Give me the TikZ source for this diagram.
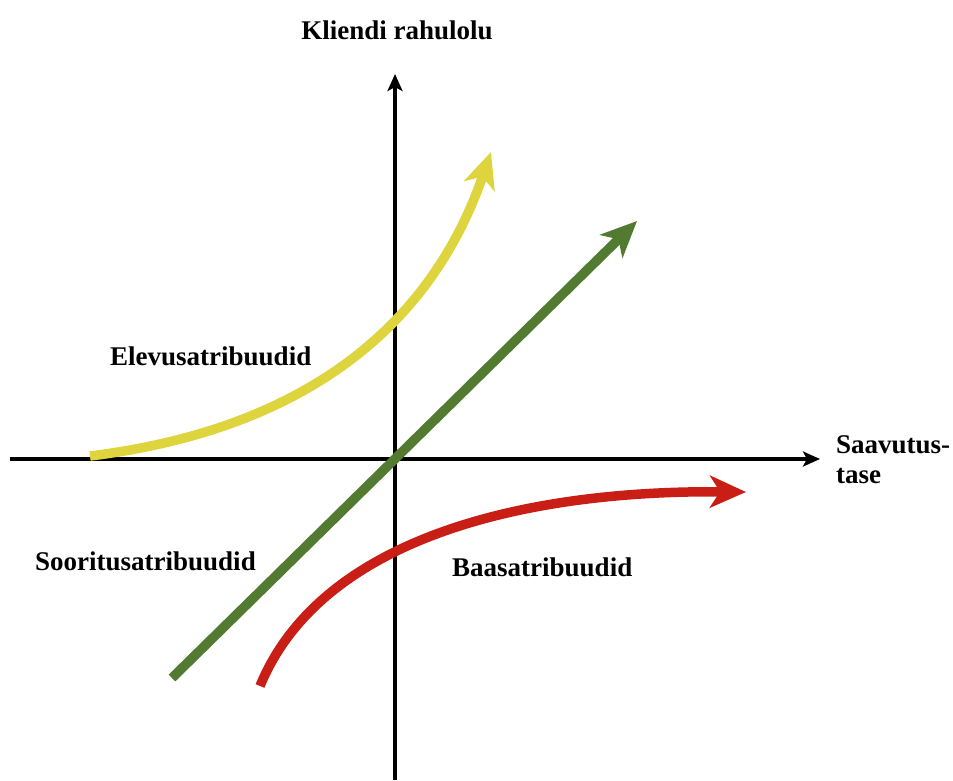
\documentclass[tikz,border=0pt]{standalone}
\usepackage{fontspec}
\setmainfont{Liberation Serif}
\usetikzlibrary{arrows.meta}
\definecolor{cyellow}{RGB}{222,212,62}
\definecolor{cgreen}{RGB}{82,122,48}
\definecolor{cred}{RGB}{200,30,22}
\tikzset{
  axis/.style={line width=3.2pt,-{Stealth[length=17pt,width=15pt,inset=4pt]}},
  curve/.style={line width=9.5pt,-{Stealth[length=36pt,width=32pt,inset=10pt]}},
  lbl/.style={font=\fontsize{27}{30}\selectfont\bfseries,inner sep=0pt}
}
\begin{document}
\begin{tikzpicture}[x=1pt,y=-1pt]
\useasboundingbox (0,0) rectangle (953,780);
% axes
\coordinate (yb) at (395,780);
\coordinate (yt) at (395,74);
\coordinate (xl) at (10,459);
\coordinate (xr) at (820,459);
\draw[axis] (yb) -- (yt);
\draw[axis] (xl) -- (xr);
% curves
\coordinate (g0) at (172,678);
\coordinate (g1) at (637,221);
\draw[curve,cgreen] (g0) -- (g1);
\coordinate (y0) at (90,456);
\coordinate (y1) at (491,152);
\draw[curve,cyellow] (y0) .. controls (300,430) and (430,330) .. (y1);
\coordinate (r0) at (260,686);
\coordinate (r1) at (746,492);
\draw[curve,cred] (r0) .. controls (320,540) and (520,490) .. (r1);
% labels
\node[lbl] (ky) at (397,30) {Kliendi rahulolu};
\node[lbl,anchor=west,align=left] (kx) at (836,460) {Saavutus-\\tase};
\node[lbl,anchor=west] (el) at (110,356) {Elevusatribuudid};
\node[lbl,anchor=west] (so) at (35,561) {Sooritusatribuudid};
\node[lbl,anchor=west] (ba) at (452,567) {Baasatribuudid};
\end{tikzpicture}
\end{document}
